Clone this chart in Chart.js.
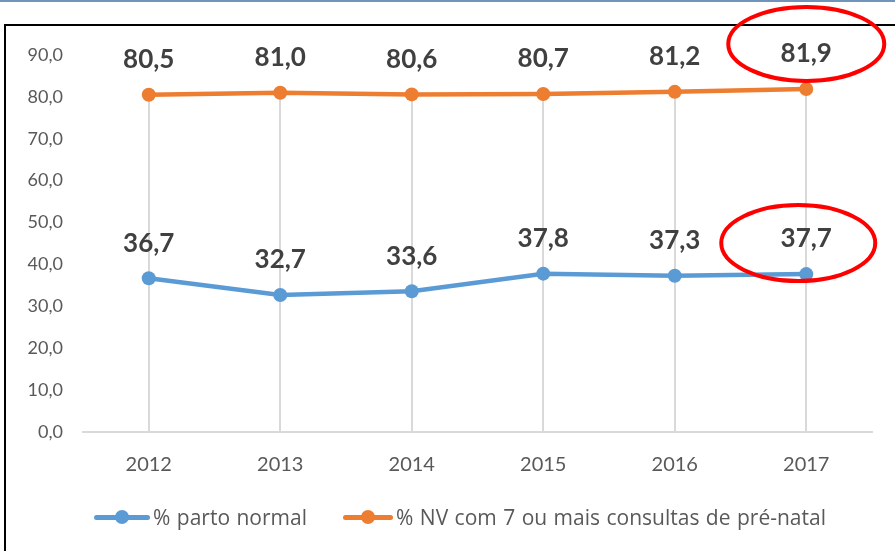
<!DOCTYPE html>
<html>
<head>
<meta charset="utf-8">
<script src="https://cdn.jsdelivr.net/npm/chart.js@4/dist/chart.umd.min.js"></script>
<style>
  html, body { margin:0; padding:0; background:#fff; }
  body { width:895px; height:551px; position:relative; overflow:hidden; font-family:Lato, "Open Sans", sans-serif; }
  #topline { position:absolute; left:0; top:0; width:895px; height:2px; background:#6f93b9; }
  #frame { position:absolute; left:4px; top:24px; width:900px; height:600px; border:2px solid #000; box-sizing:border-box; }
  #wrap { position:absolute; left:0; top:0; width:895px; height:551px; }
  #legend { position:absolute; left:94px; top:503px; display:flex; align-items:center; font-family:"Open Sans", Lato, sans-serif; font-size:21px; word-spacing:1px; color:#595959; }
  .item { display:flex; align-items:center; }
  .swatch { position:relative; height:5px; border-radius:3px; margin-right:3px; }
  .swatch i { position:absolute; top:50%; left:50%; width:14px; height:14px; border-radius:50%; transform:translate(-50%,-50%); }
</style>
</head>
<body>
<div id="topline"></div>
<div id="frame"></div>
<div id="wrap"><canvas id="chart" width="895" height="551"></canvas></div>
<div id="legend"></div>
<script>
// DATA
let years = ["2012","2013","2014","2015","2016","2017"];
let partoNormal = [36.7, 32.7, 33.6, 37.8, 37.3, 37.7];
let prenatal = [80.5, 81.0, 80.6, 80.7, 81.2, 81.9];
let labels = ["% parto normal", "% NV com 7 ou mais consultas de pré-natal"];
let colors = ["#5B9BD5", "#ED7D31"];

function fmt(v){ return v.toFixed(1).replace(".", ","); }

// drop lines from top point down to axis
let dropLines = {
  id: "dropLines",
  beforeDatasetsDraw(chart){
    let ctx = chart.ctx, x = chart.scales.x, y = chart.scales.y;
    ctx.save();
    ctx.strokeStyle = "#d9d9d9";
    ctx.lineWidth = 2;
    years.forEach((yr,i)=>{
      let top = Math.max(partoNormal[i], prenatal[i]);
      let px = Math.round(x.getPixelForValue(i));
      ctx.beginPath();
      ctx.moveTo(px, y.getPixelForValue(top));
      ctx.lineTo(px, y.getPixelForValue(0));
      ctx.stroke();
    });
    ctx.restore();
  }
};

// value labels + red highlight ellipses on the last year
let valueLabels = {
  id: "valueLabels",
  afterDatasetsDraw(chart){
    let ctx = chart.ctx;
    ctx.save();
    ctx.font = "bold 26px Lato, 'Open Sans', sans-serif";
    ctx.fillStyle = "#404040";
    ctx.textAlign = "center";
    ctx.textBaseline = "middle";
    chart.data.datasets.forEach((ds,d)=>{
      chart.getDatasetMeta(d).data.forEach((pt,i)=>{
        ctx.fillText(fmt(ds.data[i]), pt.x, pt.y - 35);
      });
    });
    // ellipses
    ctx.strokeStyle = "#ff0000";
    ctx.lineWidth = 4;
    let last = years.length - 1;
    let p1 = chart.getDatasetMeta(1).data[last];
    let p0 = chart.getDatasetMeta(0).data[last];
    ctx.beginPath();
    ctx.ellipse(p1.x, p1.y - 45, 78, 37, 0, 0, Math.PI*2);
    ctx.stroke();
    ctx.beginPath();
    ctx.ellipse(p0.x - 8, p0.y - 31, 77, 38, 0, 0, Math.PI*2);
    ctx.stroke();
    ctx.restore();
  }
};

let chart = new Chart(document.getElementById("chart"), {
  type: "line",
  data: {
    labels: years,
    datasets: [
      { label: labels[0], data: partoNormal, borderColor: colors[0], backgroundColor: colors[0],
        borderWidth: 4.5, pointRadius: 7, pointHoverRadius: 7, pointBorderWidth: 0 },
      { label: labels[1], data: prenatal, borderColor: colors[1], backgroundColor: colors[1],
        borderWidth: 4.5, pointRadius: 7, pointHoverRadius: 7, pointBorderWidth: 0 }
    ]
  },
  options: {
    responsive: false,
    animation: false,
    layout: { padding: { top: 55, right: 23, left: 0, bottom: 0 } },
    plugins: { legend: { display: false }, tooltip: { enabled: false } },
    scales: {
      x: {
        offset: true,
        grid: { display: false, drawTicks: false },
        border: { color: "#d9d9d9", width: 2 },
        ticks: { color: "#595959", font: { family: "Lato", size: 20 }, padding: 21 },
        afterFit(s){ s.height = 119; }
      },
      y: {
        min: 0, max: 90,
        grid: { display: false, drawTicks: false },
        border: { display: false },
        ticks: { stepSize: 10, color: "#595959", font: { family: "Lato", size: 18 }, padding: 20,
          callback: v => fmt(v) },
        afterFit(s){ s.width = 83; }
      }
    }
  },
  plugins: [dropLines, valueLabels]
});

// LEGEND
let legend = document.getElementById("legend");
let widths = [56, 50];
labels.forEach((l,i)=>{
  let item = document.createElement("div");
  item.className = "item";
  if(i > 0) item.style.marginLeft = "36px";
  item.innerHTML = `<span class="swatch" style="width:${widths[i]}px;background:${colors[i]}"><i style="background:${colors[i]}"></i></span><span>${l}</span>`;
  legend.appendChild(item);
});
</script>
</body>
</html>
